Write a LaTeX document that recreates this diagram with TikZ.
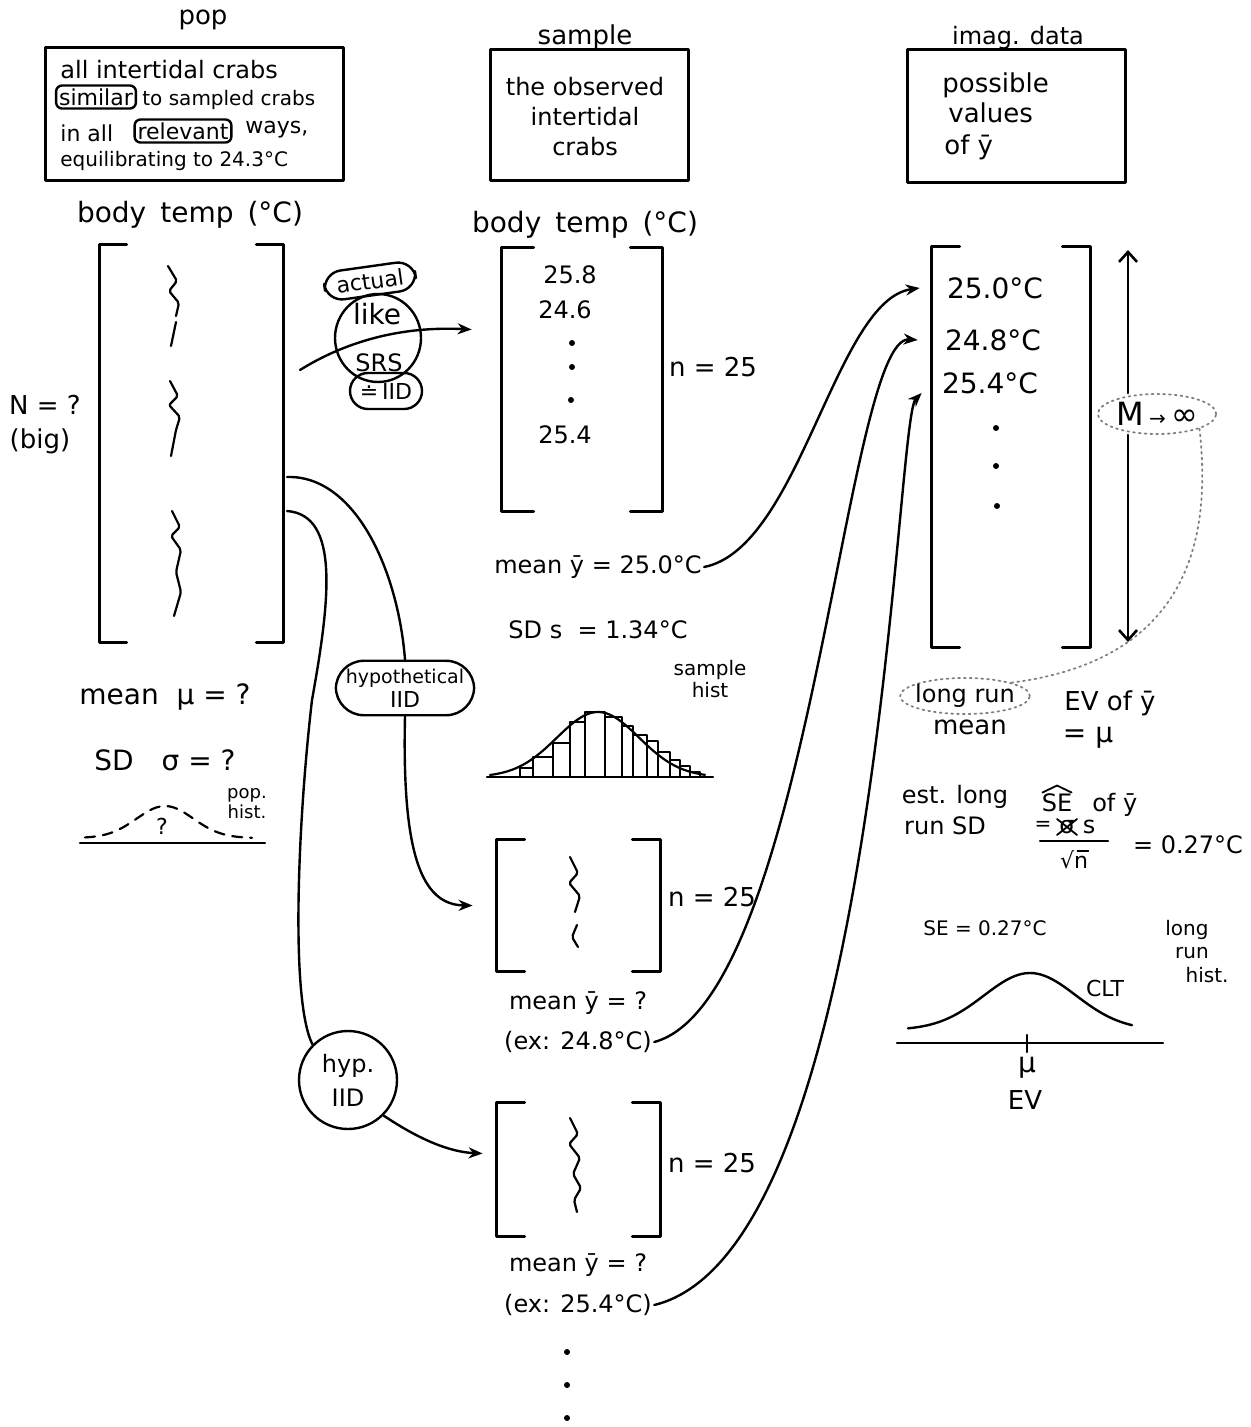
\documentclass[tikz,border=0pt]{standalone}
\usepackage{fontspec}
\setmainfont{DejaVu Sans}
\usetikzlibrary{arrows.meta,shapes.geometric,fit}
\newcommand\mybracket[2]{%
  \draw[brkline] ([xshift=#2]#1.north west) -- (#1.north west) -- (#1.south west) -- ([xshift=#2]#1.south west);
  \draw[brkline] ([xshift=-#2]#1.north east) -- (#1.north east) -- (#1.south east) -- ([xshift=-#2]#1.south east);}
\begin{document}
\begin{tikzpicture}[x=0.5pt,y=-0.5pt, line cap=round, line join=round,
  every node/.style={inner sep=1pt},
  f9/.style={font=\fontsize{9}{10}\selectfont},
  f10/.style={font=\fontsize{10}{11}\selectfont},
  f11/.style={font=\fontsize{11}{13}\selectfont},
  f12/.style={font=\fontsize{12}{15}\selectfont},
  f13/.style={font=\fontsize{13}{15}\selectfont},
  f14/.style={font=\fontsize{14}{16}\selectfont},
  f15/.style={font=\fontsize{15}{17}\selectfont},
  brkline/.style={line width=1.5pt},
  boxline/.style={draw, line width=1.5pt, inner sep=0pt},
  brk/.style={inner sep=0pt},
  conn/.style={line width=1.2pt},
  arr/.style={conn,-{Stealth[length=7pt,width=5.5pt]}},
  barb/.style={line width=1.3pt,-{Straight Barb[length=5pt,width=9pt,line width=1.3pt]}},
  sq/.style={line width=1.1pt, rounded corners=1pt},
  pill/.style={draw, line width=1.2pt, rounded corners=9pt},
  wbox/.style={draw, line width=1.2pt, rounded corners=3pt, inner sep=1.5pt},
  gdot/.style={draw=gray, dotted, line width=0.9pt}
]
\useasboundingbox (0,0) rectangle (1250,1427);

% ================= POP column =================
\node[f13] (poplbl) at (203,20) {pop};
\node[boxline, fit={(45,48)(343,181)}] (popbox) {};
\node[f12, anchor=west] (pl1) at (58,70) {all intertidal crabs};
\node[f11, wbox] (sim) at (96,97) {similar};
\node[f10, anchor=west] (pl2) at (140,100) {to sampled crabs};
\node[f11, anchor=west] (pl3a) at (58,133) {in all};
\node[f11, wbox] (rel) at (183,131) {relevant};
\node[f11, anchor=west] (pl3b) at (243,130) {ways,};
\node[f10, anchor=west] (pl4) at (58,161) {equilibrating to 24.3°C};

\node[f14] (popbt) at (190,215) {body\enspace temp\enspace(°C)};
\node[brk, fit={(100,245)(283,642)}] (popB) {};
\mybracket{popB}{13.5pt}
\draw[sq] (168,266) -- (177,281) -- (169,291) -- (179,303) -- (176,316);
\draw[sq] (176,322) -- (171,346);
\draw[sq] (170,381) -- (178,396) -- (169,405) -- (180,417) -- (176,430) -- (171,456);
\draw[sq] (172,511) -- (180,527) -- (171,536) -- (181,550) -- (176,572) -- (181,592) -- (174,616);

\node[f13] (Nq) at (45,405) {N = ?};
\node[f13] (big) at (40,441) {(big)};
\node[f14] (popmean) at (165,697) {mean\ \ μ = ?};
\node[f14] (popsd) at (165,760) {SD\quad σ = ?};

\draw[dashed, dash pattern=on 5pt off 4pt, line width=1.1pt]
  plot[domain=85:252, samples=50] (\x, {838-32*exp(-((\x-165)/40)*((\x-165)/40))});
\draw[line width=1.2pt] (80,843) -- (265,843);
\node[f11] (popq) at (162,826) {?};
\node[f9, align=center] (pophist) at (247,804) {pop.\\hist.};

% ================= SAMPLE column =================
\node[f13] (samplbl) at (585,37) {sample};
\node[boxline, fit={(490,50)(688,181)}] (sampbox) {};
\node[f12, align=center] (samptext) at (585,117) {the observed\\intertidal\\crabs};
\node[f14] (sampbt) at (585,225) {body\enspace temp\enspace(°C)};
\node[brk, fit={(502,248)(662,511)}] (sampB) {};
\mybracket{sampB}{16pt}
\node[f12] (s1) at (570,275) {25.8};
\node[f12] (s2) at (565,310) {24.6};
\node[f12] (s3) at (565,435) {25.4};
\fill (572,343) circle (1.5pt) (572,367) circle (1.5pt) (571,400) circle (1.5pt);
\node[f13] (sn1) at (713,367) {n = 25};
\node[f12] (mean1) at (598,567) {mean ȳ = 25.0°C};
\node[f12] (sd1) at (598,630) {SD\ s\ \ = 1.34°C};
\node[f10, align=center] (samphist) at (710,679) {sample\\hist};
\foreach \a/\b/\c in {520/533/768,533/553/757,553/570/743,570/585/722,585/605/712,605/622/717,622/633/726,633/647/735,647/658/741,658/670/752,670/680/760,680/690/766,690/700/772}
  \draw[line width=1pt] (\a,777) rectangle (\b,\c);
\draw[line width=1.2pt] (487,777) -- (713,777);
\draw[line width=1.1pt] plot[domain=490:705, samples=60] (\x, {777-65*exp(-((\x-598)/58)*((\x-598)/58))});

\node[brk, fit={(497,840)(660,971)}] (h1B) {};
\mybracket{h1B}{14pt}
\draw[sq] (570,857) -- (578,873) -- (569,883) -- (580,896) -- (575,912);
\draw[sq] (577,925) -- (572,937) -- (578,947);
\node[f13] (sn2) at (712,897) {n = 25};
\node[f12] (mean2) at (578,1003) {mean ȳ = ?};
\node[f12] (ex1) at (578,1042) {(ex: 24.8°C)};

\node[brk, fit={(497,1103)(660,1236)}] (h2B) {};
\mybracket{h2B}{14pt}
\draw[sq] (570,1118) -- (578,1134) -- (569,1144) -- (580,1158) -- (573,1174) -- (581,1188) -- (574,1200) -- (577,1212);
\node[f13] (sn3) at (712,1163) {n = 25};
\node[f12] (mean3) at (578,1265) {mean ȳ = ?};
\node[f12] (ex2) at (578,1305) {(ex: 25.4°C)};
\fill (567,1352) circle (1.5pt) (567,1385) circle (1.5pt) (567,1418) circle (1.5pt);

% ================= IMAG column =================
\node[f12] (imaglbl) at (1018,38) {imag. data};
\node[boxline, fit={(907,50)(1125,183)}] (imagbox) {};
\node[f13, anchor=west] (pv1) at (940,85) {possible};
\node[f13, anchor=west] (pv2) at (946,113) {values};
\node[f13, anchor=west] (pv3) at (942,147) {of ȳ};
\node[brk, fit={(932,247)(1090,647)}] (imagB) {};
\mybracket{imagB}{14pt}
\node[f14] (v1) at (995,288) {25.0°C};
\node[f14] (v2) at (993,340) {24.8°C};
\node[f14] (v3) at (990,383) {25.4°C};
\fill (996,428) circle (1.5pt) (996,466) circle (1.5pt) (997,506) circle (1.5pt);

\node[ellipse, gdot, inner sep=0.5pt, minimum height=20pt] (Mn) at (1157,414)
  {\fontsize{16}{16}\selectfont M\,{\fontsize{10}{10}\selectfont→}\,∞};
\coordinate (axt) at (1128,250);
\coordinate (axb) at (1128,642);
\draw[barb] (Mn.north -| axt) -- (axt);
\draw[barb] (Mn.south -| axt) -- (axb);

\node[ellipse, gdot, f12, inner sep=-2pt, minimum height=18pt] (lr) at (965,696) {long run};
\node[f13] (lrmean) at (970,727) {mean};
\draw[gdot] (Mn.south east) .. controls (1212,540) and (1188,660) .. (lr.north east);

\node[f13] (evof) at (1110,703) {EV of ȳ};
\node[f14] (evmu) at (1088,738) {= μ};
\node[f12] (est1) at (955,797) {est. long};
\node[f12] (est2) at (945,826) {run SD};
\node[f12] (se) at (1057,803) {SE};
\node[f12, anchor=base west] (seof) at (se.base east) {\ \ of ȳ};
\draw[line width=0.9pt] ([xshift=1.5pt,yshift=-0.5pt]se.north west) -- ([yshift=3pt]se.north) -- ([xshift=-1.5pt,yshift=-0.5pt]se.north east);
\node[f10] (feq) at (1043,826) {=};
\node[f12] (fsig) at (1067,827) {σ};
\node[f12] (fs) at (1089,827) {s};
\draw[line width=0.9pt] (fsig.center) ++(-5pt,-4pt) -- ++(10pt,8pt);
\draw[line width=0.9pt] (fsig.center) ++(-5pt,4pt) -- ++(10pt,-8pt);
\draw[line width=1.1pt] (1040,841) -- (1108,841);
\node[f11] (fsq) at (1074,860) {√n};
\draw[line width=0.8pt] ([xshift=-6.5pt,yshift=-1.2pt]fsq.north east) -- ([xshift=-1pt,yshift=-1.2pt]fsq.north east);
\node[f12] (seval) at (1188,845) {= 0.27°C};

\node[f10] (selbl) at (985,928) {SE = 0.27°C};
\node[f10] (lrh1) at (1187,930) {long};
\node[f10] (lrh2) at (1192,953) {run};
\node[f10] (lrh3) at (1207,975) {hist.};
\node[f11] (clt) at (1105,988) {CLT};
\draw[line width=1.2pt] plot[domain=908:1132, samples=60] (\x, {1030-57*exp(-((\x-1030)/65)*((\x-1030)/65))});
\draw[line width=1.2pt] (897,1043) -- (1163,1043);
\draw[line width=1.2pt] (1027,1035) -- (1027,1052);
\node[f14] (evmu2) at (1027,1068) {μ};
\node[f13] (ev2) at (1025,1100) {EV};

% ================= sampling labels and connectors =================
\node[pill, f11, inner xsep=6pt, inner ysep=3pt, rotate=8] (actual) at (370,281) {actual};
\node[ellipse, draw, line width=1.2pt, inner sep=0pt, minimum width=43pt, minimum height=44pt] (likesrs) at (378,338) {};
\node[f14] (liketxt) at (377,314) {like};
\node[f12] (srstxt) at (379,363) {SRS};
\node[pill, f11, inner xsep=5pt, inner ysep=5pt] (iid1) at (386,391) {≐\,IID};
\node[draw, line width=1.2pt, rounded corners=14pt, align=center, inner xsep=5pt, inner ysep=4pt] (hyp1) at (405,688) {{\fontsize{9.5}{12}\selectfont hypothetical}\\{\fontsize{11}{13}\selectfont IID}};
\node[circle, draw, line width=1.2pt, align=center, f12, inner sep=1pt, minimum size=49pt] (hyp2) at (348,1080) {hyp.\\[2pt]IID};

\coordinate (a1s) at (300,370);
\draw[arr] (a1s) .. controls (345,342) and (400,326) .. ([shift={(-15pt,25pt)}]sampB.west);
\coordinate (a2s) at (287,477);
\draw[conn] (a2s) .. controls (355,475) and (398,570) .. (hyp1.north);
\draw[arr] (hyp1.south) .. controls (402,850) and (420,905) .. ([xshift=-12pt]h1B.west);
\coordinate (a3s) at (287,511);
\draw[conn] (a3s) .. controls (340,515) and (330,600) .. (312,700) .. controls (298,820) and (290,1000) .. (hyp2.north west);
\draw[arr] (hyp2.south east) .. controls (420,1140) and (450,1152) .. ([shift={(-7pt,8pt)}]h2B.west);

\draw[arr] (mean1.east) .. controls (800,548) and (835,300) .. ([xshift=-12.5pt]v1.west);
\draw[arr] (ex1.east) .. controls (810,1000) and (845,335) .. ([xshift=-12.5pt]v2.west);
\draw[arr] (ex2.east) .. controls (880,1250) and (895,420) .. ([shift={(-9pt,-5pt)}]v3.west);
\end{tikzpicture}
\end{document}
